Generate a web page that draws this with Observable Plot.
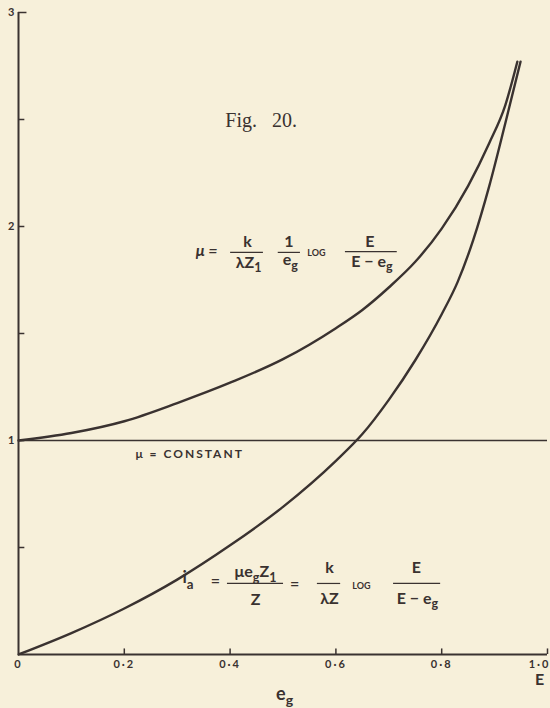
<!DOCTYPE html>
<html>
<head>
<meta charset="utf-8">
<script src="https://cdn.jsdelivr.net/npm/d3@7"></script>
<script src="https://cdn.jsdelivr.net/npm/@observablehq/plot@0.6"></script>
<style>
  html, body { margin: 0; padding: 0; background: #f7f0da; }
  #chart { width: 550px; height: 708px; overflow: hidden; }
</style>
</head>
<body>
<div id="chart"></div>
<script>
// Grid voltage e_g, as a fraction of E, for the amplification-factor curve
const egMu = [0, 0.1, 0.2, 0.3, 0.4, 0.5, 0.6, 0.65, 0.7, 0.75, 0.8, 0.85, 0.89, 0.92, 0.943];
// μ = (k / λZ₁)(1/e_g) log E/(E − e_g), relative to its value at e_g = 0
const muValues = [1.0, 1.035, 1.09, 1.175, 1.27, 1.38, 1.525, 1.61, 1.715, 1.835, 1.99, 2.19, 2.39, 2.565, 2.77];

// Grid voltage e_g for the anode-current curve
const egIa = [0, 0.1, 0.2, 0.3, 0.4, 0.5, 0.6, 0.65, 0.7, 0.75, 0.8, 0.83, 0.86, 0.89, 0.92, 0.949];
// i_a = (k / λZ) log E/(E − e_g)
const iaValues = [0, 0.1, 0.215, 0.35, 0.51, 0.69, 0.905, 1.03, 1.19, 1.375, 1.59, 1.74, 1.94, 2.19, 2.48, 2.77];

// The constant-μ reference level
const constantMu = [1];

// Axis ticks and their labels
const xTicks = [0, 0.2, 0.4, 0.6, 0.8, 1.0];
const xTickLabels = ["0", "0·2", "0·4", "0·6", "0·8", "1·0"];
const yTicks = [1, 2, 3];
const yTickLabels = ["1", "2", "3"];
const yInnerTicks = [0.5, 1, 1.5, 2, 2.5, 3];

const ink = "#3a3230";
const sans = "Lato, 'Open Sans', sans-serif";

const muCurve = egMu.map((x, i) => ({x, y: muValues[i]}));
const iaCurve = egIa.map((x, i) => ({x, y: iaValues[i]}));

// Formula pieces in chart units (x: e_g/E, y: curve value), baseline-anchored.
// "_c" marks a subscript character.
const muFormula = [
  {t: "μ =", x: 0.335, y: 1.86, a: "start", s: 16, i: true},
  {t: "k", x: 0.433, y: 1.902, a: "middle", s: 16},
  {t: "λZ_1", x: 0.435, y: 1.808, a: "middle", s: 16},
  {t: "1", x: 0.511, y: 1.902, a: "middle", s: 16},
  {t: "e_g", x: 0.514, y: 1.818, a: "middle", s: 16},
  {t: "LOG", x: 0.546, y: 1.864, a: "start", s: 9},
  {t: "E", x: 0.664, y: 1.902, a: "middle", s: 16},
  {t: "E − e_g", x: 0.668, y: 1.813, a: "middle", s: 16}
];
const muBars = [
  {x1: 0.401, x2: 0.463, y: 1.879},
  {x1: 0.491, x2: 0.533, y: 1.879},
  {x1: 0.618, x2: 0.716, y: 1.883}
];

const iaFormula = [
  {t: "i_a", x: 0.31, y: 0.332, a: "start", s: 17},
  {t: "=", x: 0.372, y: 0.322, a: "middle", s: 16},
  {t: "μe_gZ_1", x: 0.448, y: 0.36, a: "middle", s: 16},
  {t: "Z", x: 0.448, y: 0.229, a: "middle", s: 16},
  {t: "=", x: 0.522, y: 0.308, a: "middle", s: 16},
  {t: "k", x: 0.588, y: 0.379, a: "middle", s: 16},
  {t: "λZ", x: 0.588, y: 0.238, a: "middle", s: 16},
  {t: "LOG", x: 0.631, y: 0.308, a: "start", s: 9},
  {t: "E", x: 0.752, y: 0.379, a: "middle", s: 16},
  {t: "E − e_g", x: 0.754, y: 0.238, a: "middle", s: 16}
];
const iaBars = [
  {x1: 0.395, x2: 0.501, y: 0.332},
  {x1: 0.565, x2: 0.609, y: 0.332},
  {x1: 0.709, x2: 0.798, y: 0.332}
];

const axisNames = [
  {t: "E", x: 0.985, y: -0.143, a: "middle", s: 16},
  {t: "e_g", x: 0.503, y: -0.212, a: "middle", s: 18}
];

// One text mark per font size / anchor / style, so sizes stay constants
function formulaMarks(items) {
  const groups = d3.groups(items, d => `${d.s}|${d.a}|${d.i ? 1 : 0}`);
  return groups.map(([key, rows]) => {
    const [s, a, it] = key.split("|");
    return Plot.text(rows, {
      x: "x", y: "y", text: "t",
      textAnchor: a, lineAnchor: "bottom",
      fontSize: +s, fontStyle: it === "1" ? "italic" : "normal",
      fill: ink, fontFamily: sans, fontWeight: 700,
      ariaLabel: () => "formula"
    });
  });
}

const chart = Plot.plot({
  width: 550,
  height: 708,
  marginLeft: 18,
  marginRight: 3,
  marginTop: 12,
  marginBottom: 54,
  style: {background: "transparent", color: ink, fontFamily: sans, overflow: "visible"},
  x: {domain: [0, 1]},
  y: {domain: [0, 3]},
  marks: [
    // frame axes
    Plot.ruleX([0], {y1: 0, y2: 3, stroke: ink, strokeWidth: 2}),
    Plot.ruleY([0], {x1: 0, x2: 1, stroke: ink, strokeWidth: 2}),
    // inward ticks
    Plot.ruleY(yInnerTicks, {y: d => d, x1: 0, x2: d => d === 3 ? 0.016 : 0.012, stroke: ink, strokeWidth: 1.5}),
    Plot.ruleX(xTicks.slice(1), {x: d => d, y1: 0, y2: 0.026, stroke: ink, strokeWidth: 1.5}),
    Plot.axisY(yTicks, {
      tickSize: 0, tickPadding: 4, label: null,
      tickFormat: d => yTickLabels[yTicks.indexOf(d)],
      fontSize: 11, fontWeight: "bold", fontFamily: sans, fill: ink
    }),
    Plot.axisX(xTicks.slice(0, -1), {
      tickSize: 0, tickPadding: 6, label: null,
      tickFormat: d => xTickLabels[xTicks.indexOf(d)],
      fontSize: 11, fontWeight: "bold", fontFamily: sans, fill: ink
    }),
    // the last tick label sits flush with the right edge
    Plot.text(xTicks.slice(-1), {
      x: d => d, y: 0, dy: 6, dx: 3, text: d => xTickLabels[xTicks.indexOf(d)],
      textAnchor: "end", lineAnchor: "top", fontSize: 11, fontWeight: "bold",
      fontFamily: sans, fill: ink, ariaLabel: () => "spaced"
    }),
    // constant μ
    Plot.ruleY(constantMu, {stroke: ink, strokeWidth: 1.3}),
    Plot.text(constantMu, {
      x: 0.221, y: d => d, dy: 17, text: () => "μ = CONSTANT",
      textAnchor: "start", lineAnchor: "bottom", fontSize: 12, fontWeight: "bold",
      fontFamily: sans, fill: ink, ariaLabel: () => "spaced"
    }),
    // curves
    Plot.line(muCurve, {x: "x", y: "y", curve: "monotone-x", stroke: ink, strokeWidth: 2.4}),
    Plot.line(iaCurve, {x: "x", y: "y", curve: "monotone-x", stroke: ink, strokeWidth: 2.4}),
    // formulas
    ...formulaMarks(muFormula),
    Plot.ruleY(muBars, {y: "y", x1: "x1", x2: "x2", stroke: ink, strokeWidth: 1.2}),
    ...formulaMarks(iaFormula),
    Plot.ruleY(iaBars, {y: "y", x1: "x1", x2: "x2", stroke: ink, strokeWidth: 1.2}),
    ...formulaMarks(axisNames),
    // figure number
    Plot.text(["Fig.\u2002 20."], {
      x: 0.391, y: 2.467, text: d => d, textAnchor: "start", lineAnchor: "bottom",
      fontSize: 20, fontFamily: "'Liberation Serif', 'DejaVu Serif', serif", fill: ink
    })
  ]
});

document.getElementById("chart").appendChild(chart);

const svg = d3.select(chart);
svg.selectAll('g[aria-label="x-axis tick label"] text').style("letter-spacing", "2px");
svg.selectAll('text[aria-label="spaced"]').style("letter-spacing", "2px");

// Turn "_c" into a lowered, smaller tspan
svg.selectAll('text[aria-label="formula"]').each(function () {
  const raw = this.textContent;
  if (!raw.includes("_")) return;
  const size = parseFloat(getComputedStyle(this).fontSize) || 16;
  const shift = size * 0.3;
  const el = d3.select(this);
  el.text(null);
  const parts = raw.split(/_(.)/);
  let lowered = false;
  parts.forEach((part, k) => {
    if (!part) return;
    const sub = k % 2 === 1;
    const ts = el.append("tspan").text(part);
    if (sub) {
      ts.attr("font-size", size * 0.78).attr("dy", lowered ? 0 : shift);
      lowered = true;
    } else if (lowered) {
      ts.attr("dy", -shift);
      lowered = false;
    }
  });
});
</script>
</body>
</html>
